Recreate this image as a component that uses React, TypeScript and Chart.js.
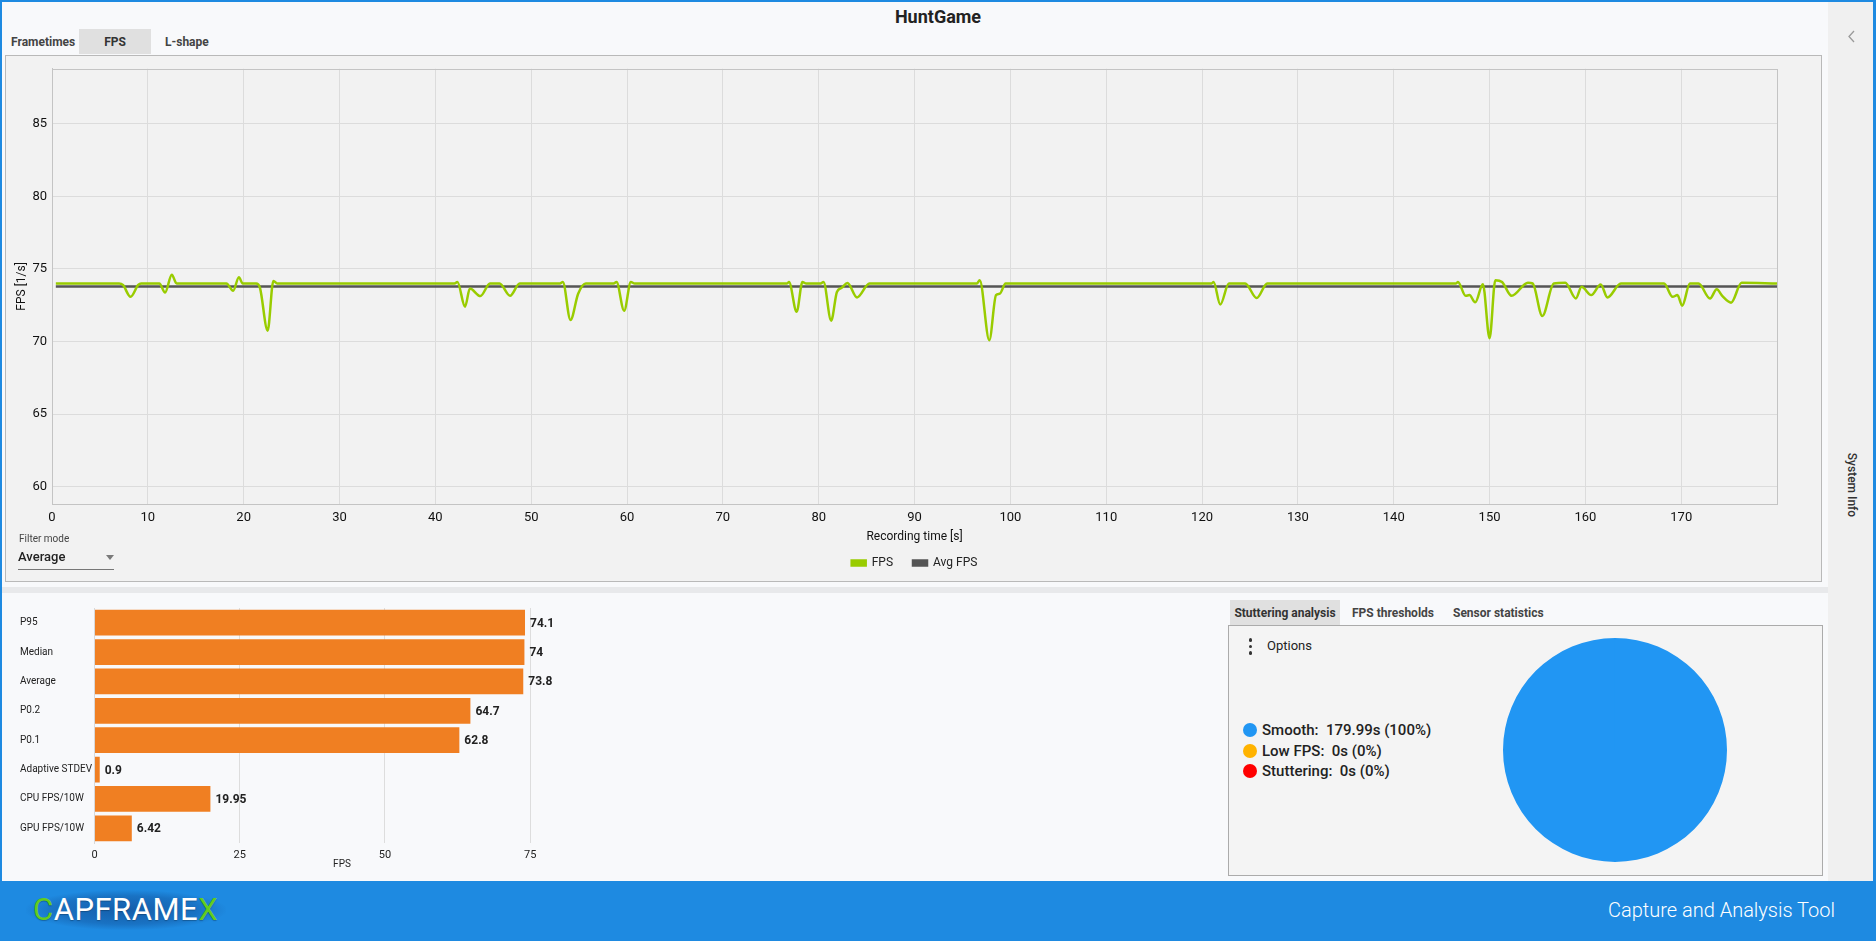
import React, { useEffect, useRef } from "react";
import { Chart, registerables } from "chart.js";

Chart.register(...registerables);

const FONT = "Roboto, 'Noto Sans', 'DejaVu Sans', sans-serif";

const TITLE = "HuntGame";
const TABS_TOP = ["Frametimes", "FPS", "L-shape"];
const TABS_BOTTOM = ["Stuttering analysis", "FPS thresholds", "Sensor statistics"];

// Recording time [s] of the FPS curve's samples
const TIME_S = [
  0.4, 7.0, 7.4, 8.2, 9.0, 9.3, 11.2, 11.8, 12.5, 13.0,
  18.2, 18.9, 19.5, 19.9, 21.3, 21.7, 22.5, 23.1, 23.5,
  42.0, 42.3, 43.1, 43.6, 44.7, 45.7, 46.7, 47.8, 48.8,
  53.0, 53.3, 54.1, 54.9, 55.7, 58.6, 58.9, 59.7, 60.4, 60.8,
  76.7, 76.9, 77.7, 78.3, 78.7, 80.2, 80.5, 81.3, 81.9, 82.4, 83.0, 84.0, 85.3,
  96.5, 96.8, 97.8, 98.5, 98.9, 99.5,
  121.0, 121.2, 121.9, 122.8, 124.5, 125.7, 126.8,
  146.5, 146.7, 147.5, 147.9, 148.5, 149.3, 150.0, 150.6, 151.3, 152.3, 154.0,
  154.5, 155.5, 156.7, 157.9, 159.0, 159.6, 160.6, 161.6, 162.3, 163.7,
  168.2, 169.1, 169.6, 170.1, 170.9, 171.8, 173.0, 173.7, 174.3, 175.2, 176.3, 179.99,
];
// FPS [1/s] at those times
const FPS_VALUES = [
  74.0, 74.0, 73.9, 73.08, 73.9, 74.0, 74.0, 73.38, 74.6, 74.0,
  74.0, 73.5, 74.43, 74.0, 74.0, 73.7, 70.75, 74.18, 74.0,
  74.0, 74.1, 72.4, 73.65, 73.13, 74.0, 74.0, 73.15, 74.0,
  74.0, 74.1, 71.49, 73.3, 74.0, 74.0, 74.1, 72.12, 74.1, 74.0,
  74.0, 74.1, 72.05, 74.1, 74.0, 74.0, 74.1, 71.44, 73.42, 73.7, 74.04, 73.04, 74.0,
  74.0, 74.23, 70.09, 73.2, 73.3, 74.0,
  74.0, 74.1, 72.55, 74.0, 74.0, 73.0, 74.0,
  74.0, 74.1, 73.15, 73.2, 72.7, 73.95, 70.23, 74.23, 74.1, 73.15, 74.05,
  74.0, 71.76, 74.0, 74.05, 72.97, 73.77, 73.2, 73.93, 73.04, 74.0,
  74.0, 73.08, 73.2, 72.47, 74.0, 74.0, 72.97, 73.6, 73.13, 72.68, 74.05, 74.0,
];
const AVG_FPS = 73.8;
const X_MIN = 0;
const X_MAX = 179.99;
const X_TICKS = [0, 10, 20, 30, 40, 50, 60, 70, 80, 90, 100, 110, 120, 130, 140, 150, 160, 170];
const Y_MIN = 58.8;
const Y_MAX = 88.8;
const Y_TICKS = [60, 65, 70, 75, 80, 85];

const BAR_LABELS = ["P95", "Median", "Average", "P0.2", "P0.1", "Adaptive STDEV", "CPU FPS/10W", "GPU FPS/10W"];
const BAR_VALUES = [74.1, 74, 73.8, 64.7, 62.8, 0.9, 19.95, 6.42];
const BAR_X_MAX = 85.2;
const BAR_TICKS = [0, 25, 50, 75];

const STUTTER_LABELS = ["Smooth", "Low FPS", "Stuttering"];
const STUTTER_SECONDS = [179.99, 0, 0];
const STUTTER_PERCENT = [100, 0, 0];
const STUTTER_COLORS = ["#2196F3", "#FFB300", "#FF0000"];

const BLUE = "#1E8AE1";

function FpsChart() {
  const ref = useRef<HTMLCanvasElement>(null);
  useEffect(() => {
    const frame = {
      id: "frame",
      afterLayout(chart: any) {
        const l = chart.legend;
        if (l) {
          l.left += 23;
          l.right += 23;
        }
      },
      afterDraw(chart: any) {
        const { ctx, chartArea: a } = chart;
        ctx.save();
        ctx.strokeStyle = "#C4C4C4";
        ctx.lineWidth = 1;
        ctx.strokeRect(Math.round(a.left) + 0.5, Math.round(a.top) + 0.5, Math.round(a.right - a.left), Math.round(a.bottom - a.top));
        ctx.restore();
      },
    };
    const chart = new Chart(ref.current!, {
      type: "line",
      data: {
        datasets: [
          {
            label: "FPS",
            data: TIME_S.map((t, i) => ({ x: t, y: FPS_VALUES[i] })),
            borderColor: "#99CC00",
            backgroundColor: "#99CC00",
            borderWidth: 2.5,
            pointRadius: 0,
            cubicInterpolationMode: "monotone",
          },
          {
            label: "Avg FPS",
            data: [
              { x: TIME_S[0], y: AVG_FPS },
              { x: X_MAX, y: AVG_FPS },
            ],
            borderColor: "#555555",
            backgroundColor: "#555555",
            borderWidth: 2.5,
            pointRadius: 0,
          },
        ],
      },
      options: {
        animation: false,
        responsive: true,
        maintainAspectRatio: false,
        layout: { padding: { left: 0, top: 10, right: 44, bottom: 2 } },
        plugins: {
          legend: {
            position: "bottom",
            labels: { boxWidth: 14, boxHeight: 5, padding: 20, color: "#222", font: { family: FONT, size: 12 } },
          },
          tooltip: { enabled: false },
        },
        scales: {
          x: {
            type: "linear",
            min: X_MIN,
            max: X_MAX,
            afterBuildTicks: (s: any) => {
              s.ticks = X_TICKS.map((v) => ({ value: v }));
            },
            afterFit: (s: any) => {
              s.height = 33;
            },
            ticks: { padding: 6, color: "#111", font: { family: FONT, size: 13 }, maxRotation: 0, autoSkip: false },
            grid: { color: "#DCDCDC", drawTicks: false },
            border: { color: "#C4C4C4" },
            title: {
              display: true,
              text: "Recording time [s]",
              color: "#111",
              font: { family: FONT, size: 12 },
              padding: { top: 0, bottom: -7 },
            },
          },
          y: {
            type: "linear",
            min: Y_MIN,
            max: Y_MAX,
            afterBuildTicks: (s: any) => {
              s.ticks = Y_TICKS.map((v) => ({ value: v }));
            },
            afterFit: (s: any) => {
              s.width = 46;
            },
            ticks: { padding: 5, color: "#111", font: { family: FONT, size: 13 } },
            grid: { color: "#DCDCDC", drawTicks: false },
            border: { color: "#C4C4C4" },
            title: {
              display: true,
              text: "FPS [1/s]",
              color: "#111",
              font: { family: FONT, size: 12 },
              padding: { top: 9, bottom: 0 },
            },
          },
        },
      } as any,
      plugins: [frame],
    });
    return () => chart.destroy();
  }, []);
  return <canvas ref={ref} />;
}

function BarStats() {
  const ref = useRef<HTMLCanvasElement>(null);
  useEffect(() => {
    const valueLabels = {
      id: "valueLabels",
      afterDatasetsDraw(chart: any) {
        const { ctx } = chart;
        const meta = chart.getDatasetMeta(0);
        ctx.save();
        ctx.fillStyle = "#222";
        ctx.font = `bold 12px ${FONT}`;
        ctx.textBaseline = "middle";
        ctx.textAlign = "left";
        meta.data.forEach((el: any, i: number) => {
          ctx.fillText(String(BAR_VALUES[i]), el.x + 5, el.y + 1);
        });
        ctx.restore();
      },
    };
    const chart = new Chart(ref.current!, {
      type: "bar",
      data: {
        labels: BAR_LABELS,
        datasets: [
          {
            data: BAR_VALUES,
            backgroundColor: "#F07F22",
            borderWidth: 0,
            barPercentage: 0.88,
            categoryPercentage: 1,
          },
        ],
      },
      options: {
        indexAxis: "y",
        animation: false,
        responsive: true,
        maintainAspectRatio: false,
        layout: { padding: { left: 10, top: 10, right: 20.5, bottom: 3 } },
        plugins: { legend: { display: false }, tooltip: { enabled: false } },
        scales: {
          x: {
            type: "linear",
            min: 0,
            max: BAR_X_MAX,
            afterBuildTicks: (s: any) => {
              s.ticks = BAR_TICKS.map((v) => ({ value: v }));
            },
            afterFit: (s: any) => {
              s.height = 30;
            },
            ticks: { padding: 6, color: "#222", font: { family: FONT, size: 11 }, maxRotation: 0 },
            grid: { color: "#DDDDDD", drawTicks: false },
            border: { display: false },
            title: { display: true, text: "FPS", color: "#222", font: { family: FONT, size: 10 }, padding: { top: 0, bottom: 3 } },
          },
          y: {
            afterFit: (s: any) => {
              s.width = 74.5;
            },
            ticks: { crossAlign: "far", color: "#222", font: { family: FONT, size: 10 } },
            grid: { display: false, drawTicks: false },
            border: { display: true, color: "#D8D8D8" },
          },
        },
      } as any,
      plugins: [valueLabels],
    });
    return () => chart.destroy();
  }, []);
  return <canvas ref={ref} />;
}

function StutterPie() {
  const ref = useRef<HTMLCanvasElement>(null);
  useEffect(() => {
    const chart = new Chart(ref.current!, {
      type: "pie",
      data: {
        labels: STUTTER_LABELS,
        datasets: [{ data: STUTTER_SECONDS, backgroundColor: STUTTER_COLORS, borderWidth: 0 }],
      },
      options: {
        animation: false,
        responsive: true,
        maintainAspectRatio: false,
        layout: { padding: 0 },
        plugins: { legend: { display: false }, tooltip: { enabled: false } },
      } as any,
    });
    return () => chart.destroy();
  }, []);
  return <canvas ref={ref} />;
}

const abs = (left: number, top: number, extra: React.CSSProperties = {}): React.CSSProperties => ({
  position: "absolute",
  left,
  top,
  ...extra,
});

export default function App() {
  return (
    <div
      style={{
        position: "fixed",
        left: 0,
        top: 0,
        width: 1876,
        height: 941,
        background: "#F8F9FB",
        overflow: "hidden",
        fontFamily: FONT,
        color: "#222",
      }}
    >
      {/* window border */}
      <div style={abs(0, 0, { width: 1876, height: 2, background: BLUE })} />
      <div style={abs(0, 0, { width: 2, height: 941, background: BLUE })} />
      <div style={abs(1873, 0, { width: 3, height: 941, background: BLUE })} />

      {/* right side panel */}
      <div style={abs(1828, 2, { width: 45, height: 879, background: "#F0F0F0" })} />
      <svg style={abs(1846, 30)} width={12} height={14}>
        <polyline points="8,1 3,6.5 8,12" fill="none" stroke="#9A9A9A" strokeWidth={1.3} />
      </svg>
      <div
        style={abs(1852, 485, {
          transform: "translate(-50%, -50%) rotate(90deg)",
          fontSize: 12,
          fontWeight: 500,
          color: "#333",
          whiteSpace: "nowrap",
        })}
      >
        System Info
      </div>

      {/* title */}
      <div style={abs(0, 7, { width: 1876, textAlign: "center", fontSize: 18, fontWeight: 700, color: "#222", lineHeight: "20px" })}>
        {TITLE}
      </div>

      {/* top tabs */}
      <div style={abs(79, 29, { width: 72, height: 25, background: "#E0E0E0" })} />
      <div style={abs(11, 34, { fontSize: 12, fontWeight: 700, color: "#444", lineHeight: "16px" })}>{TABS_TOP[0]}</div>
      <div style={abs(79, 34, { width: 72, textAlign: "center", fontSize: 12, fontWeight: 700, color: "#333", lineHeight: "16px" })}>
        {TABS_TOP[1]}
      </div>
      <div style={abs(165, 34, { fontSize: 12, fontWeight: 700, color: "#444", lineHeight: "16px" })}>{TABS_TOP[2]}</div>

      {/* main chart box */}
      <div
        style={abs(5, 55, {
          width: 1817,
          height: 527,
          boxSizing: "border-box",
          border: "1px solid #B9B9B9",
          background: "#F2F2F2",
        })}
      />
      <div style={abs(6, 56, { width: 1815, height: 525 })}>
        <FpsChart />
      </div>

      {/* filter mode */}
      <div style={abs(19, 533, { fontSize: 10, color: "#444", lineHeight: "12px" })}>Filter mode</div>
      <div style={abs(18, 549, { fontSize: 13, fontWeight: 500, color: "#222", lineHeight: "16px" })}>Average</div>
      <div
        style={abs(106, 555, {
          width: 0,
          height: 0,
          borderLeft: "4px solid transparent",
          borderRight: "4px solid transparent",
          borderTop: "5px solid #7A7A7A",
        })}
      />
      <div style={abs(18, 569, { width: 96, height: 1, background: "#777" })} />

      {/* separator */}
      <div style={abs(2, 587, { width: 1826, height: 6, background: "#E8E9EB" })} />

      {/* bar chart */}
      <div style={abs(10, 598, { width: 600, height: 278 })}>
        <BarStats />
      </div>

      {/* stutter tabs */}
      <div style={abs(1230, 600, { width: 110, height: 25, background: "#E0E0E0" })} />
      <div style={abs(1230, 605, { width: 110, textAlign: "center", fontSize: 12, fontWeight: 700, color: "#333", lineHeight: "16px" })}>
        {TABS_BOTTOM[0]}
      </div>
      <div style={abs(1352, 605, { fontSize: 12, fontWeight: 700, color: "#444", lineHeight: "16px" })}>{TABS_BOTTOM[1]}</div>
      <div style={abs(1453, 605, { fontSize: 12, fontWeight: 700, color: "#444", lineHeight: "16px" })}>{TABS_BOTTOM[2]}</div>

      {/* stutter box */}
      <div
        style={abs(1228, 625, {
          width: 595,
          height: 251,
          boxSizing: "border-box",
          border: "1px solid #ABABAB",
          background: "#F4F4F4",
        })}
      />
      {[0, 1, 2].map((i) => (
        <div
          key={i}
          style={abs(1248.5, 638 + i * 6.5, { width: 3.5, height: 3.5, borderRadius: "50%", background: "#333" })}
        />
      ))}
      <div style={abs(1267, 638, { fontSize: 13, color: "#222", lineHeight: "16px" })}>Options</div>
      {STUTTER_LABELS.map((lab, i) => (
        <React.Fragment key={lab}>
          <div
            style={abs(1243, 723 + i * 20.5, { width: 14, height: 14, borderRadius: "50%", background: STUTTER_COLORS[i] })}
          />
          <div
            style={abs(1262, 721 + i * 20.5, {
              fontSize: 15,
              fontWeight: 500,
              color: "#222",
              lineHeight: "18px",
              whiteSpace: "pre",
            })}
          >
            {`${lab}:  ${STUTTER_SECONDS[i]}s (${STUTTER_PERCENT[i]}%)`}
          </div>
        </React.Fragment>
      ))}
      <div style={abs(1503, 638, { width: 224, height: 224 })}>
        <StutterPie />
      </div>

      {/* footer */}
      <div style={abs(0, 881, { width: 1876, height: 60, background: BLUE })} />
      <div
        style={abs(26, 890, {
          width: 200,
          height: 40,
          background: "radial-gradient(ellipse at center, rgba(16,70,140,0.65) 0%, rgba(16,70,140,0.35) 50%, rgba(16,70,140,0) 72%)",
        })}
      />
      <div
        style={abs(33, 893, {
          fontSize: 31,
          lineHeight: "34px",
          fontWeight: 400,
          color: "#FFFFFF",
          letterSpacing: 0.5,
          textShadow: "0 1px 1px rgba(0,0,0,0.25)",
          whiteSpace: "nowrap",
        })}
      >
        <span style={{ color: "#63CC1E" }}>C</span>APFRAME<span style={{ color: "#63CC1E" }}>X</span>
      </div>
      <div
        style={abs(1400, 897, {
          width: 435,
          textAlign: "right",
          fontSize: 20,
          fontWeight: 300,
          color: "#FFFFFF",
          lineHeight: "26px",
          whiteSpace: "nowrap",
        })}
      >
        Capture and Analysis Tool
      </div>
    </div>
  );
}
